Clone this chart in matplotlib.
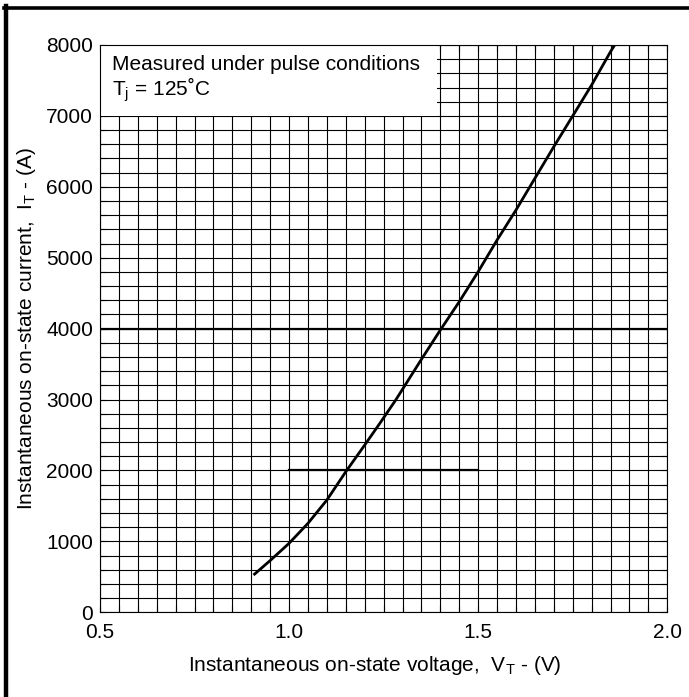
import matplotlib
matplotlib.use("Agg")
import matplotlib.pyplot as plt
from matplotlib.patches import Rectangle
from matplotlib.lines import Line2D
import numpy as np

# on-state characteristic
v_t = [0.906, 0.95, 1.0, 1.05, 1.10, 1.15, 1.20, 1.24, 1.282, 1.35, 1.40,
       1.45, 1.50, 1.55, 1.60, 1.65, 1.70, 1.75, 1.80, 1.85, 1.861]
i_t = [526, 730, 973, 1255, 1584, 1983, 2359, 2665, 2994, 3568, 3981,
       4380, 4803, 5250, 5673, 6120, 6566, 7000, 7436, 7906, 8000]

x_ticks = [0.5, 1.0, 1.5, 2.0]
x_tick_labels = ["0.5", "1.0", "1.5", "2.0"]
y_ticks = [0, 1000, 2000, 3000, 4000, 5000, 6000, 7000, 8000]

plt.rcParams['font.family'] = ['Liberation Sans', 'DejaVu Sans']
plt.rcParams['mathtext.fontset'] = 'custom'
plt.rcParams['mathtext.rm'] = 'Liberation Sans'

fig = plt.figure(figsize=(6.89, 6.97), dpi=100)
ax = fig.add_axes([0.1451, 0.1215, 0.8234, 0.814])

ax.set_xlim(0.5, 2.0)
ax.set_ylim(0, 8000)

# fine grid
for x in np.arange(0.5, 2.0001, 0.05):
    ax.axvline(x, color='black', lw=0.8, zorder=1)
for y in np.arange(0, 8001, 200):
    ax.axhline(y, color='black', lw=0.8, zorder=1)
# heavier reference lines
ax.axhline(4000, color='black', lw=1.6, zorder=1)
ax.plot([1.0, 1.5], [2000, 2000], color='black', lw=1.6, zorder=1)

# white panel behind the note
ax.add_patch(Rectangle((0.5, 7000), 0.89, 1000, facecolor='white',
                       edgecolor='none', zorder=2))

ax.plot(v_t, i_t, color='black', lw=2.0, zorder=3,
        solid_capstyle='butt', solid_joinstyle='round')

ax.text(0.533, 7640, "Measured under pulse conditions", fontsize=15, zorder=4)
ax.text(0.533, 7290, r"T$_\mathregular{j}$ = 125˚C", fontsize=15, zorder=4)

ax.set_xticks(x_ticks)
ax.set_xticklabels(x_tick_labels)
ax.set_yticks(y_ticks)
ax.set_xticks(np.arange(0.5, 2.0001, 0.05), minor=True)
ax.set_yticks(np.arange(0, 8001, 200), minor=True)
ax.tick_params(which='both', direction='in', top=True, right=True,
               length=4, width=0.8, labelsize=15, zorder=5)
ax.tick_params(axis='x', pad=8)
ax.tick_params(axis='y', pad=5)

for s in ax.spines.values():
    s.set_linewidth(0.8)
    s.set_zorder(5)

ax.set_xlabel(r"Instantaneous on-state voltage,  V$_\mathregular{T}$ - (V)",
              fontsize=15, labelpad=8)
ax.xaxis.label.set_x(0.484)
ax.set_ylabel(r"Instantaneous on-state current,  I$_\mathregular{T}$ - (A)",
              fontsize=15, labelpad=6)

# frame lines on the left and top of the page
fig.add_artist(Line2D([0.0087, 0.0087], [0, 0.991], color='black', lw=3.2))
fig.add_artist(Line2D([0.006, 1.0], [0.989, 0.989], color='black', lw=2.6))

fig.savefig("out.png", dpi=100)
